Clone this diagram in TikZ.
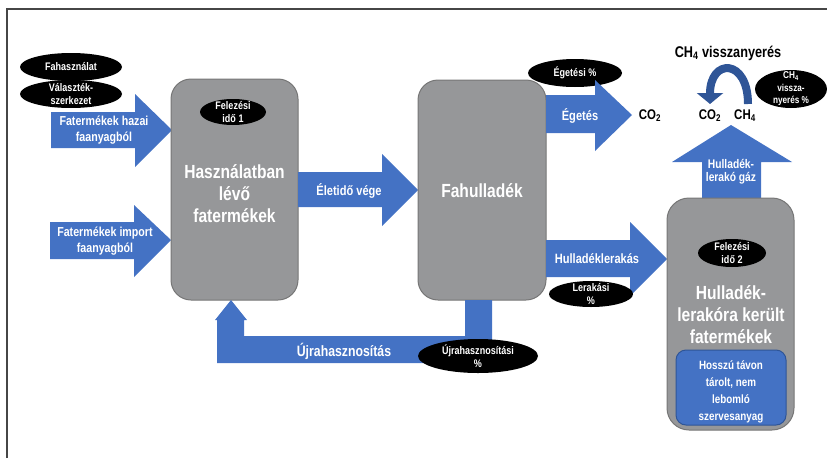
\documentclass[tikz,border=0pt]{standalone}
\usepackage{fontspec}
\setmainfont{Liberation Sans}[FakeStretch=0.82]
\usetikzlibrary{arrows.meta,shapes.geometric}
\definecolor{ablue}{RGB}{68,114,196}
\definecolor{dblue}{RGB}{47,85,151}
\definecolor{boxgray}{RGB}{150,151,153}
\definecolor{boxedge}{RGB}{118,118,118}
\definecolor{framec}{RGB}{70,70,70}
\tikzset{
  arrowshape/.style={fill=ablue},
  arrowtext/.style={text=white, font=\bfseries\fontsize{13}{15.5}\selectfont, align=center, inner sep=0},
  bigbox/.style={rectangle, fill=boxgray, draw=boxedge, line width=1, rounded corners=20},
  bigtext/.style={text=white, font=\bfseries\fontsize{19}{22}\selectfont, align=center, inner sep=0},
  tagshape/.style={ellipse, fill=black, inner sep=0},
  tagtext/.style={text=white, font=\bfseries\fontsize{11}{12.5}\selectfont, align=center, inner sep=0},
  plaintext/.style={text=black, font=\bfseries\fontsize{14}{16}\selectfont, inner sep=0}
}
\begin{document}
\begin{tikzpicture}[x=1pt,y=-1pt]
\useasboundingbox (0,0) rectangle (827,458);
% frame
\draw[framec, line width=2] (7,458) -- (7,9) -- (827,9);

% left ellipses
\node[tagshape, minimum width=102, minimum height=28] (fah) at (71,67) {};
\node[tagtext] (faht) at (fah) {Fahasználat};
\node[tagshape, minimum width=102, minimum height=28] (val) at (71,94) {};
\node[tagtext] (valt) at (val) {Választék-\\szerkezet};

% input arrows
\fill[arrowshape] (51,112) -- (135,112) -- (135,94) -- (172,130) -- (135,167) -- (135,148) -- (51,148) -- cycle;
\node[arrowtext] (hazai) at (104,130) {Fatermékek hazai\\faanyagból};
\fill[arrowshape] (50,222) -- (134,222) -- (134,205) -- (171,240) -- (134,277) -- (134,259) -- (50,259) -- cycle;
\node[arrowtext] (import) at (105,241) {Fatermékek import\\faanyagból};

% box 1
\node[bigbox, minimum width=127, minimum height=221] (b1) at (234.5,189.5) {};
\node[tagshape, minimum width=66, minimum height=26] (fel1) at (233,112) {};
\node[tagtext] (fel1t) at (fel1) {Felezési\\idő 1};
\node[bigtext] (b1t) at (234.5,194) {Használatban\\lévő\\fatermékek};

% Életidő vége arrow
\fill[arrowshape] (298,172) -- (382,172) -- (382,154) -- (418,190) -- (382,226) -- (382,207) -- (298,207) -- cycle;
\node[arrowtext, font=\bfseries\fontsize{13.5}{16}\selectfont] (elet) at (349,191) {Életidő vége};

% box 2
\node[bigbox, minimum width=128, minimum height=220] (b2) at (482,190) {};
\node[bigtext] (b2t) at (482,191) {Fahulladék};

% Égetés
\node[tagshape, minimum width=94, minimum height=28] (eg) at (575,73) {};
\node[tagtext] (egt) at (eg) {Égetési \%};
\fill[arrowshape] (546,95) -- (595,95) -- (595,80) -- (632,115) -- (595,151) -- (595,133) -- (546,133) -- cycle;
\node[arrowtext, font=\bfseries\fontsize{13.5}{16}\selectfont] (egetes) at (580,116) {Égetés};
\node[plaintext] (co2a) at (650,116) {CO\textsubscript{2}};

% Hulladéklerakás
\fill[arrowshape] (546,240) -- (630,240) -- (630,222) -- (667,259) -- (630,296) -- (630,277) -- (546,277) -- cycle;
\node[arrowtext, font=\bfseries\fontsize{13.5}{16}\selectfont] (lerak) at (597,259) {Hulladéklerakás};
\node[tagshape, minimum width=84, minimum height=26] (ler) at (591,294) {};
\node[tagtext] (lert) at (ler) {Lerakási\\\%};

% Újrahasznosítás
\fill[arrowshape] (465,300) -- (492,300) -- (492,363) -- (217,363) -- (217,320) -- (215,320) -- (231,300) -- (247,320) -- (244,320) -- (244,336) -- (465,336) -- cycle;
\node[arrowtext, font=\bfseries\fontsize{15}{17}\selectfont] (ujra) at (344,351) {Újrahasznosítás};
\node[tagshape, minimum width=120, minimum height=34] (ujr) at (478,356) {};
\node[tagtext] (ujrt) at (ujr) {Újrahasznosítási\\\%};

% box 3
\fill[arrowshape] (702,200) -- (702,162) -- (672,162) -- (731,125) -- (792,162) -- (761,162) -- (761,200) -- cycle;
\node[arrowtext, font=\bfseries\fontsize{12.5}{13.5}\selectfont] (gaz) at (731,171.5) {Hulladék-\\lerakó gáz};
\node[bigbox, rounded corners=22, minimum width=127, minimum height=232] (b3) at (730.5,314) {};
\node[tagshape, minimum width=68, minimum height=28] (fel2) at (732,253) {};
\node[tagtext] (fel2t) at (fel2) {Felezési\\idő 2};
\node[bigtext] (b3t) at (731,315) {Hulladék-\\lerakóra került\\fatermékek};
\node[rectangle, fill=ablue, draw=dblue, line width=1, rounded corners=10, minimum width=110, minimum height=75] (inner) at (731,387.5) {};
\node[arrowtext, font=\bfseries\fontsize{12}{17}\selectfont] (innert) at (731,392) {Hosszú távon\\tárolt, nem\\lebomló\\szervesanyag};

% CH4 recovery
\node[plaintext] (co2b) at (710,116) {CO\textsubscript{2}};
\node[plaintext] (ch4) at (745,116) {CH\textsubscript{4}};
\node[plaintext, font=\bfseries\fontsize{15.5}{18}\selectfont] (title) at (728,53) {CH\textsubscript{4} visszanyerés};
\draw[dblue, line width=8, -{Triangle[width=26,length=11]}] (748,104) .. controls (748,58) and (710,58) .. (710,104);
\node[tagshape, minimum width=72, minimum height=38] (ch4e) at (791,89) {};
\node[tagtext, font=\bfseries\fontsize{10}{12.5}\selectfont] (ch4et) at (ch4e) {CH\textsubscript{4}\\vissza-\\nyerés \%};
\end{tikzpicture}
\end{document}
